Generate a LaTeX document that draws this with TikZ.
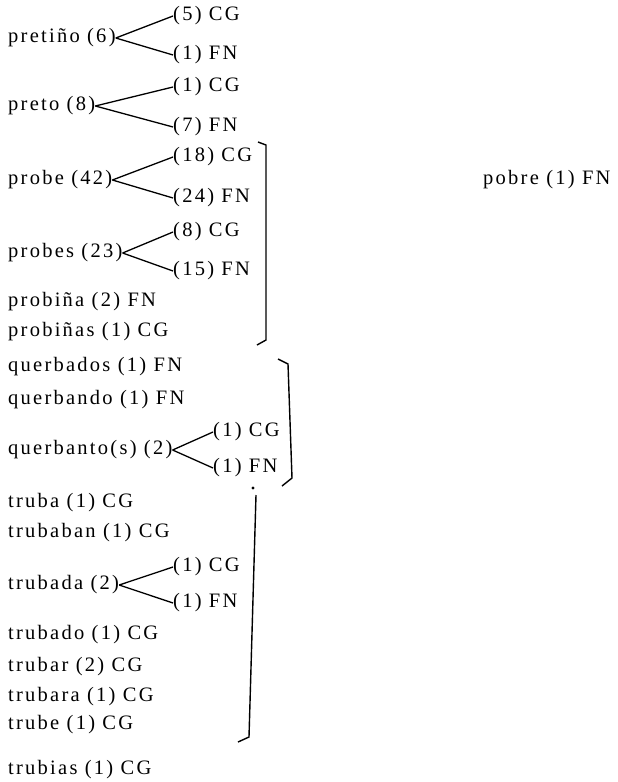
\documentclass[tikz,border=0pt]{standalone}
\usepackage{fontspec}
\setmainfont{Liberation Serif}[LetterSpace=11]
\begin{document}
\begin{tikzpicture}[x=1pt,y=-1pt,
  lbl/.style={anchor=west,inner sep=0pt,font=\fontsize{20.5}{24}\selectfont},
  branch/.style={line width=1.3pt},
  brack/.style={line width=1.4pt}]
\useasboundingbox (0,0) rectangle (618,782);
% pretiño
\node[lbl] (r1) at (8,38) {pretiño (6)};
\node[lbl] (r1a) at (173,16) {(5) CG};
\node[lbl] (r1b) at (173,55) {(1) FN};
\draw[branch] (r1.east) -- (r1a.west);
\draw[branch] (r1.east) -- (r1b.west);
% preto
\node[lbl] (r2) at (8,106) {preto (8)};
\node[lbl] (r2a) at (173,87) {(1) CG};
\node[lbl] (r2b) at (173,127) {(7) FN};
\draw[branch] (r2.east) -- (r2a.west);
\draw[branch] (r2.east) -- (r2b.west);
% probe
\node[lbl] (r3) at (8,180) {probe (42)};
\node[lbl] (r3a) at (173,157) {(18) CG};
\node[lbl] (r3b) at (173,198) {(24) FN};
\draw[branch] (r3.east) -- (r3a.west);
\draw[branch] (r3.east) -- (r3b.west);
% probes
\node[lbl] (r4) at (8,253) {probes (23)};
\node[lbl] (r4a) at (173,232) {(8) CG};
\node[lbl] (r4b) at (173,271) {(15) FN};
\draw[branch] (r4.east) -- (r4a.west);
\draw[branch] (r4.east) -- (r4b.west);
\node[lbl] (r5) at (8,302) {probiña (2) FN};
\node[lbl] (r6) at (8,332) {probiñas (1) CG};
\node[lbl] (r7) at (8,367) {querbados (1) FN};
\node[lbl] (r8) at (8,400) {querbando (1) FN};
% querbanto
\node[lbl] (r9) at (8,450) {querbanto(s) (2)};
\node[lbl] (r9a) at (213,432) {(1) CG};
\node[lbl] (r9b) at (213,468) {(1) FN};
\draw[branch] (r9.east) -- (r9a.west);
\draw[branch] (r9.east) -- (r9b.west);
\node[lbl] (r10) at (8,503) {truba (1) CG};
\node[lbl] (r11) at (8,533) {trubaban (1) CG};
% trubada
\node[lbl] (r12) at (8,585) {trubada (2)};
\node[lbl] (r12a) at (173,567) {(1) CG};
\node[lbl] (r12b) at (173,603) {(1) FN};
\draw[branch] (r12.east) -- (r12a.west);
\draw[branch] (r12.east) -- (r12b.west);
\node[lbl] (r13) at (8,635) {trubado (1) CG};
\node[lbl] (r14) at (8,667) {trubar (2) CG};
\node[lbl] (r15) at (8,697) {trubara (1) CG};
\node[lbl] (r16) at (8,725) {trube (1) CG};
\node[lbl] (r17) at (8,770) {trubias (1) CG};
% pobre
\node[lbl] (p1) at (483,180) {pobre (1) FN};
% brackets
\draw[brack] (258,142) -- (266,145) -- (266,340) -- (257,345);
\draw[brack] (278,359) -- (288,364) -- (292,478) -- (282,486);
\fill (253,488) circle (1.6);
\draw[brack] (256,495) -- (249,737) -- (238,742);
\end{tikzpicture}
\end{document}
